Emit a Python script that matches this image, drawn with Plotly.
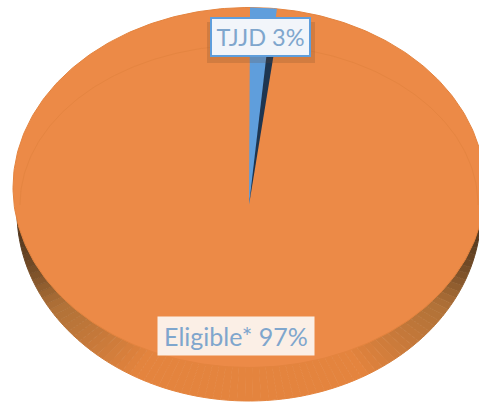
import numpy as np
import plotly.graph_objects as go

categories = ["TJJD", "Eligible*"]
values = [3, 97]

W, H = 479, 403
CX, CY, RX, RY = 249, 187.5, 236, 180      # top face
OCY, ORX, ORY = 212, 232, 189              # outer rim of the side wall
AX, AY = 249, 205                          # apex of the wedge
DRAWN_SWEEP = 0.63                         # foreshortening of the 3-D wedge

ORANGE = "#EC8A47"
BLUE = "#5F9EDC"
DARK = "#1E3550"


def rim(deg):
    t = np.radians(deg)
    return CX + RX * np.sin(t), CY - RY * np.cos(t)


def mix(a, b, t):
    return tuple(a[i] + (b[i] - a[i]) * t for i in range(3))


fig = go.Figure()


def poly(xs, ys, color, lw=0, lc=None):
    fig.add_trace(go.Scatter(
        x=list(xs), y=list(ys), mode="lines", fill="toself", fillcolor=color,
        line=dict(color=lc or color, width=lw), hoverinfo="skip", showlegend=False))


# side wall, shaded strip by strip
edges = np.linspace(85, 275, 96)
for a, b in zip(edges[:-1], edges[1:]):
    mid = np.radians((a + b) / 2)
    t = abs(np.sin(mid))
    if t < 0.5:
        c = (228, 132, 62)
    elif t < 0.85:
        c = mix((228, 132, 62), (178, 114, 56), (t - 0.5) / 0.35)
    else:
        c = mix((178, 114, 56), (80, 54, 30), ((t - 0.85) / 0.15) ** 1.3)
    th = np.radians(np.linspace(a, b, 4))
    xs = np.r_[CX, CX + ORX * np.sin(th)]
    ys = np.r_[OCY, OCY - ORY * np.cos(th)]
    poly(xs, ys, "rgb(%d,%d,%d)" % c, 1)

# top face
th = np.radians(np.linspace(0, 360, 361))
poly(CX + RX * np.sin(th), CY - RY * np.cos(th), ORANGE, 1, "#E4843F")

# faint inner arc
th = np.radians(np.linspace(-90, 90, 181))
fig.add_trace(go.Scatter(x=CX + 229 * np.sin(th), y=205 - 160 * np.cos(th), mode="lines",
                         line=dict(color="#E58541", width=1), hoverinfo="skip", showlegend=False))

# TJJD wedge, swept from its value
sweep = values[0] / sum(values) * 360 * DRAWN_SWEEP
th = np.linspace(0.25, sweep, 12)
rx_, ry_ = rim(th)
poly(np.r_[AX, rx_], np.r_[AY, ry_], BLUE)

# dark inner wall of the wedge
x1, y1 = rim(sweep * 0.82)
x2, y2 = rim(sweep * 1.15)
f = 0.81
poly([AX, AX + (x1 - AX) * f, AX + (x2 - AX) * f], [AY, AY + (y1 - AY) * f, AY + (y2 - AY) * f], DARK)

# label shadow
fig.add_shape(type="rect", x0=207, x1=315, y0=22, y1=63, layer="above",
              fillcolor="rgba(110,70,40,0.2)", line_width=0)

fig.add_annotation(x=260, y=37, text=f"{categories[0]} {values[0]}%", showarrow=False,
                   font=dict(family="Lato", size=23.5, color="#7FA6CD"),
                   width=97, height=36, bgcolor="#F2F5FA",
                   bordercolor="#5F9EDC", borderwidth=2, borderpad=0)
fig.add_annotation(x=236, y=336, text=f"{categories[1]} {values[1]}%", showarrow=False,
                   font=dict(family="Lato", size=25, color="#7FA6CD"),
                   width=156, height=38, bgcolor="#FBEFE6", borderpad=0)

fig.update_xaxes(range=[0, W], visible=False, fixedrange=True)
fig.update_yaxes(range=[H, 0], visible=False, fixedrange=True)
fig.update_layout(width=W, height=H, margin=dict(l=0, r=0, t=0, b=0),
                  paper_bgcolor="white", plot_bgcolor="white", showlegend=False)
fig.write_html("out.html", config=dict(displayModeBar=False),
               post_script="document.body.style.margin='0';document.documentElement.style.overflow='hidden';")
